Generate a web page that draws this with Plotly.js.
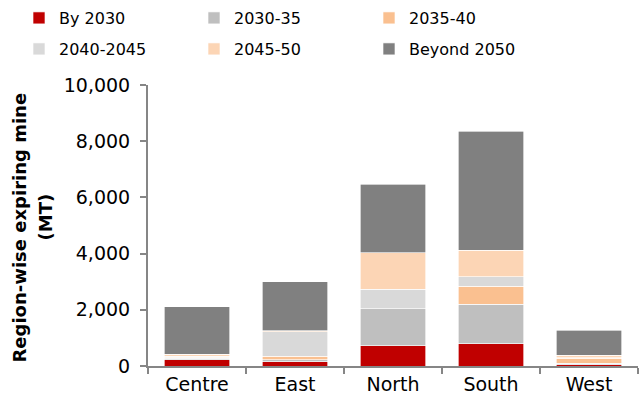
<!DOCTYPE html>
<html>
<head>
<meta charset="utf-8">
<script src="https://cdn.plot.ly/plotly-3.0.1.min.js"></script>
<style>html,body{margin:0;padding:0;background:#fff;}#chart{width:640px;height:407px;}</style>
</head>
<body>
<div id="chart"></div>
<script>
const regions = ["Centre", "East", "North", "South", "West"];
const seriesNames = ["By 2030", "2030-35", "2035-40", "2040-2045", "2045-50", "Beyond 2050"];
const by2030     = [230, 160, 725, 800, 50];
const y2030_35   = [50, 70, 1320, 1400, 40];
const y2035_40   = [30, 110, 0, 630, 180];
const y2040_45   = [40, 885, 680, 350, 20];
const y2045_50   = [60, 30, 1310, 940, 90];
const beyond2050 = [1690, 1745, 2430, 4240, 900];
const yTickVals = [0, 2000, 4000, 6000, 8000, 10000];
const yTickText = ["0", "2,000", "4,000", "6,000", "8,000", "10,000"];
const yTitleLines = ["Region-wise expiring mine", "(MT)"];

const values = [by2030, y2030_35, y2035_40, y2040_45, y2045_50, beyond2050];
const colors = ["#C00000", "#BFBFBF", "#FAC090", "#D9D9D9", "#FCD5B5", "#808080"];
const FONT = "DejaVu Sans, Open Sans, sans-serif";

const legendIds = ["legend", "legend2", "legend3", "legend4", "legend5", "legend6"];
const legendX = [19, 194, 369];          // px from left (column)
const legendY = [1, 32];                 // px from top (row)

const traces = seriesNames.map((n, i) => ({
  type: "bar",
  name: n,
  x: regions,
  y: values[i],
  legend: legendIds[i],
  marker: {color: colors[i], line: {color: "rgba(255,255,255,0.8)", width: 0.8}},
  hoverinfo: "none"
}));

const layout = {
  width: 640, height: 407,
  barmode: "stack",
  bargap: 0.33,
  margin: {l: 148, r: 2, t: 85, b: 41},
  paper_bgcolor: "#fff", plot_bgcolor: "#fff",
  font: {family: FONT, color: "#000", size: 17},
  showlegend: true,
  xaxis: {
    showline: true, linecolor: "#868686", linewidth: 2,
    ticks: "outside", tickson: "boundaries", ticklen: 6, tickcolor: "#868686", tickwidth: 2,
    tickfont: {family: FONT, size: 19, color: "#000"},
    showgrid: false, zeroline: false, fixedrange: true
  },
  yaxis: {
    range: [0, 10000],
    tickvals: yTickVals, ticktext: yTickText,
    showline: true, linecolor: "#868686", linewidth: 2,
    ticks: "outside", ticklen: 6, tickcolor: "#868686", tickwidth: 2,
    ticklabelstandoff: 6,
    tickfont: {family: FONT, size: 19, color: "#000"},
    showgrid: false, zeroline: false, fixedrange: true
  },
  annotations: [
    {text: "<b>" + yTitleLines[0] + "</b>", xref: "paper", yref: "paper", x: 0, y: 0.5,
     xshift: -129, yshift: -2, xanchor: "center", yanchor: "middle", textangle: -90, showarrow: false,
     font: {family: FONT, size: 18, color: "#000"}},
    {text: "<b>" + yTitleLines[1] + "</b>", xref: "paper", yref: "paper", x: 0, y: 0.5,
     xshift: -103, yshift: 8, xanchor: "center", yanchor: "middle", textangle: -90, showarrow: false,
     font: {family: FONT, size: 18, color: "#000"}}
  ]
};

legendIds.forEach((id, i) => {
  layout[id] = {
    orientation: "h",
    xref: "container", yref: "container",
    x: legendX[i % 3] / 640, y: 1 - legendY[Math.floor(i / 3)] / 407,
    xanchor: "left", yanchor: "top",
    font: {family: FONT, size: 16, color: "#000"},
    itemwidth: 30,
    bgcolor: "rgba(0,0,0,0)"
  };
});

Plotly.newPlot("chart", traces, layout, {staticPlot: true, displayModeBar: false});
</script>
</body>
</html>
